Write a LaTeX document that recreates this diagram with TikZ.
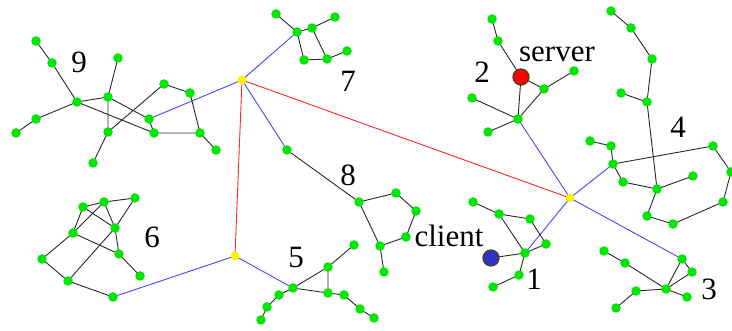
\documentclass[tikz,border=0pt]{standalone}
\usepackage{fontspec}
\setmainfont{Liberation Serif}
\definecolor{nodegreen}{RGB}{0,230,0}
\definecolor{linkblue}{RGB}{70,70,255}
\definecolor{linkred}{RGB}{255,40,40}
\definecolor{edgegray}{RGB}{40,40,40}
\definecolor{clientblue}{RGB}{50,50,200}
\definecolor{rimdark}{RGB}{70,60,20}
\begin{document}
\begin{tikzpicture}[x=1pt,y=-1pt,
  host/.style={circle,fill=nodegreen,inner sep=0pt,minimum size=9.5pt},
  router/.style={circle,fill=yellow,inner sep=0pt,minimum size=9pt},
  endpoint/.style={circle,draw=rimdark,line width=1.2pt,inner sep=0pt,minimum size=16pt},
  lan/.style={draw=edgegray,line width=0.9pt},
  uplink/.style={draw=linkblue,line width=0.9pt},
  backbone/.style={draw=linkred,line width=0.9pt},
  tag/.style={font=\fontsize{31}{31}\selectfont,inner sep=0pt}]
\useasboundingbox (0,0) rectangle (732,331);

% routers
\coordinate (Y1) at (242,80);
\coordinate (Y2) at (235,256);
\coordinate (Y3) at (570,198);

% subnet 9
\coordinate (a1) at (36,41);   \coordinate (a2) at (52,63);
\coordinate (a3) at (77,102);  \coordinate (a4) at (36,119);
\coordinate (a5) at (16,133);  \coordinate (a6) at (118,58);
\coordinate (a7) at (108,97);  \coordinate (a8) at (108,132);
\coordinate (a9) at (93,163);  \coordinate (a10) at (164,84);
\coordinate (a11) at (190,93); \coordinate (a12) at (149,119);
\coordinate (a13) at (154,133);\coordinate (a14) at (200,133);
\coordinate (a15) at (216,150);
% subnet 7
\coordinate (b1) at (276,14);  \coordinate (b2) at (297,32);
\coordinate (b3) at (312,28);  \coordinate (b4) at (335,17);
\coordinate (b5) at (304,60);  \coordinate (b6) at (327,59);
\coordinate (b7) at (347,51);
% subnet 8
\coordinate (c1) at (287,150); \coordinate (c2) at (359,202);
\coordinate (c3) at (396,193); \coordinate (c4) at (416,211);
\coordinate (c5) at (406,237); \coordinate (c6) at (380,246);
\coordinate (c7) at (384,272);
% subnet 5
\coordinate (d1) at (293,288); \coordinate (d2) at (328,267);
\coordinate (d3) at (354,245); \coordinate (d4) at (328,293);
\coordinate (d5) at (344,295); \coordinate (d6) at (360,309);
\coordinate (d7) at (374,318); \coordinate (d8) at (279,295);
\coordinate (d9) at (267,307); \coordinate (d10) at (261,320);
% subnet 6
\coordinate (e1) at (83,207);  \coordinate (e2) at (104,202);
\coordinate (e3) at (135,198); \coordinate (e4) at (73,233);
\coordinate (e5) at (115,228); \coordinate (e6) at (119,254);
\coordinate (e7) at (140,276); \coordinate (e8) at (42,259);
\coordinate (e9) at (68,281);  \coordinate (e10) at (113,297);
% subnet 2
\coordinate (f1) at (492,19);  \coordinate (f2) at (498,41);
\coordinate (f3) at (544,89);  \coordinate (f4) at (574,71);
\coordinate (f5) at (518,119); \coordinate (f6) at (472,98);
\coordinate (f7) at (488,132); \coordinate (srv) at (521,77);
% subnet 4
\coordinate (g1) at (611,11);  \coordinate (g2) at (631,28);
\coordinate (g3) at (652,59);  \coordinate (g4) at (621,93);
\coordinate (g5) at (647,102); \coordinate (g6) at (590,141);
\coordinate (g7) at (611,146); \coordinate (g8) at (613,164);
\coordinate (g9) at (713,146); \coordinate (g10) at (731,172);
\coordinate (g11) at (623,182);\coordinate (g12) at (657,189);
\coordinate (g13) at (693,176);\coordinate (g14) at (647,216);
\coordinate (g15) at (673,224);\coordinate (g16) at (723,202);
% subnet 1
\coordinate (h1) at (473,202); \coordinate (h2) at (499,214);
\coordinate (h3) at (530,219); \coordinate (h4) at (546,244);
\coordinate (h5) at (525,253); \coordinate (h6) at (519,275);
\coordinate (h7) at (493,287); \coordinate (cli) at (491,258);
% subnet 3
\coordinate (i1) at (604,251); \coordinate (i2) at (625,263);
\coordinate (i3) at (666,289); \coordinate (i4) at (636,291);
\coordinate (i5) at (616,308); \coordinate (i6) at (682,259);
\coordinate (i7) at (692,272); \coordinate (i8) at (687,297);

% backbone and uplinks
\draw[backbone] (Y1) -- (Y3);
\draw[backbone] (Y1) -- (Y2);
\draw[uplink] (Y1) -- (a12);
\draw[uplink] (Y1) -- (b2);
\draw[uplink] (Y1) -- (c1);
\draw[uplink] (Y2) -- (d1);
\draw[uplink] (Y2) -- (e10);
\draw[uplink] (Y3) -- (f5);
\draw[uplink] (Y3) -- (g8);
\draw[uplink] (Y3) -- (h5);
\draw[uplink] (Y3) -- (i6);

% local links
\draw[lan] (a1)--(a2)--(a3)--(a4)--(a5);
\draw[lan] (a3)--(a7)--(a6);
\draw[lan] (a7)--(a8)--(a9);
\draw[lan] (a7)--(a12)--(a13);
\draw[lan] (a3)--(a13)--(a14)--(a15);
\draw[lan] (a8)--(a10)--(a11)--(a14);

\draw[lan] (b1)--(b2)--(b3)--(b4);
\draw[lan] (b2)--(b5)--(b6)--(b3);
\draw[lan] (b6)--(b7);

\draw[lan] (c1)--(c2)--(c3)--(c4)--(c5)--(c6)--(c2);
\draw[lan] (c6)--(c7);

\draw[lan] (d1)--(d2)--(d3);
\draw[lan] (d2)--(d4)--(d1);
\draw[lan] (d4)--(d5)--(d6)--(d7);
\draw[lan] (d1)--(d8)--(d9)--(d10);

\draw[lan] (e1)--(e2)--(e3)--(e5);
\draw[lan] (e1)--(e4); \draw[lan] (e1)--(e5);
\draw[lan] (e2)--(e4); \draw[lan] (e2)--(e5);
\draw[lan] (e4)--(e6)--(e7);
\draw[lan] (e5)--(e6);
\draw[lan] (e4)--(e8)--(e9)--(e10);
\draw[lan] (e9)--(e5);

\draw[lan] (f1)--(f2)--(srv)--(f5);
\draw[lan] (srv)--(f3)--(f4);
\draw[lan] (f3)--(f5);
\draw[lan] (f6)--(f5)--(f7);

\draw[lan] (g1)--(g2)--(g3)--(g5)--(g12);
\draw[lan] (g4)--(g5);
\draw[lan] (g6)--(g7)--(g8)--(g9)--(g10)--(g16)--(g15)--(g14)--(g12)--(g13);
\draw[lan] (g8)--(g11)--(g12);

\draw[lan] (h1)--(h2)--(h3)--(h4)--(h5)--(h2);
\draw[lan] (cli)--(h5)--(h6)--(h7);

\draw[lan] (i1)--(i2)--(i3)--(i4)--(i5);
\draw[lan] (i3)--(i6)--(i7)--(i3)--(i8);

% hosts
\foreach \n in {a1,a2,a3,a4,a5,a6,a7,a8,a9,a10,a11,a12,a13,a14,a15,
                b1,b2,b3,b4,b5,b6,b7,c1,c2,c3,c4,c5,c6,c7,
                d1,d2,d3,d4,d5,d6,d7,d8,d9,d10,
                e1,e2,e3,e4,e5,e6,e7,e8,e9,e10,
                f1,f2,f3,f4,f5,f6,f7,
                g1,g2,g3,g4,g5,g6,g7,g8,g9,g10,g11,g12,g13,g14,g15,g16,
                h1,h2,h3,h4,h5,h6,h7,i1,i2,i3,i4,i5,i6,i7,i8}
  \node[host] (n-\n) at (\n) {};
\foreach \n in {Y1,Y2,Y3} \node[router] (r-\n) at (\n) {};
\node[endpoint,fill=red] (server) at (srv) {};
\node[endpoint,fill=clientblue] (client) at (cli) {};

% labels
\node[tag] (l9) at (79,62) {9};
\node[tag] (l7) at (348,81) {7};
\node[tag] (l2) at (482,72) {2};
\node[tag,anchor=base] (lsrv) at (557,62) {server};
\node[tag] (l4) at (678,127) {4};
\node[tag] (l8) at (348,175) {8};
\node[tag] (l6) at (152,237) {6};
\node[tag] (l5) at (296,258) {5};
\node[tag,anchor=base] (lcli) at (449,247) {client};
\node[tag] (l1) at (534,279) {1};
\node[tag] (l3) at (709,289) {3};
\end{tikzpicture}
\end{document}
